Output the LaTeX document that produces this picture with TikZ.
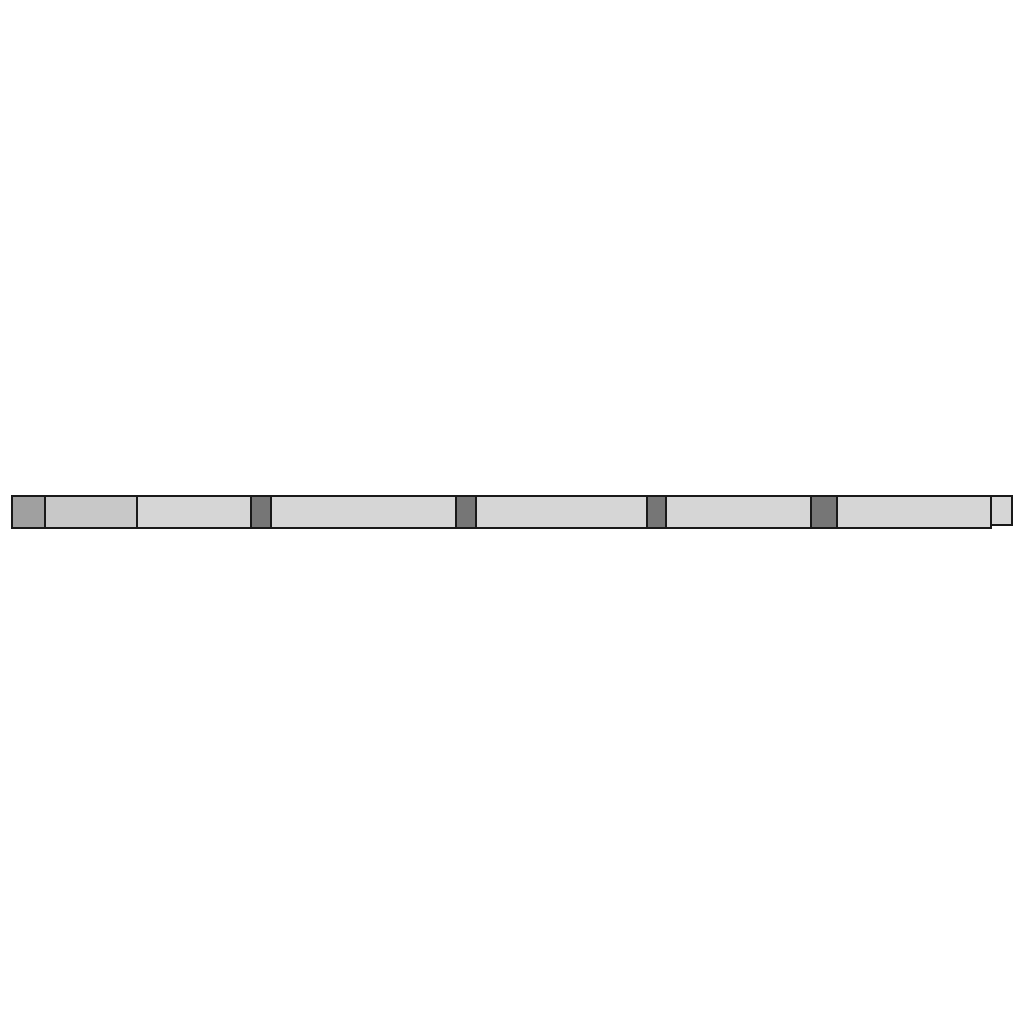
\documentclass[tikz,border=0pt]{standalone}
\usepackage{xcolor}
\definecolor{segA}{HTML}{A0A0A0}
\definecolor{segB}{HTML}{C8C8C8}
\definecolor{segC}{HTML}{D6D6D6}
\definecolor{segD}{HTML}{767676}
\tikzset{seg/.style={draw=black!90, line width=0.6pt}}

\begin{document}
\begin{tikzpicture}
			\useasboundingbox (0,0) rectangle (10.24,10.24);
			
			% topo e base da barra
			\coordinate (T) at (0,5.28);
			\coordinate (B) at (0,4.96);
			
			% primeiros blocos
			\draw[seg, fill=segA] (0.12,4.96) rectangle (0.45,5.28);
			\draw[seg, fill=segB] (0.45,4.96) rectangle (1.37,5.28);
			
			% blocos claros
			\foreach \xa/\xb in {1.37/2.51, 2.71/4.56, 4.76/6.47, 6.66/8.11, 8.37/9.91}
				\draw[seg, fill=segC] (\xa,4.96) rectangle (\xb,5.28);
			
			% separadores escuros
			\foreach \xa/\xb in {2.51/2.71, 4.56/4.76, 6.47/6.66, 8.11/8.37}
				\draw[seg, fill=segD] (\xa,4.96) rectangle (\xb,5.28);
			
			% ponta direita
			\draw[seg, fill=segC] (9.91,4.99) rectangle (10.12,5.28);
		\end{tikzpicture}
\end{document}
